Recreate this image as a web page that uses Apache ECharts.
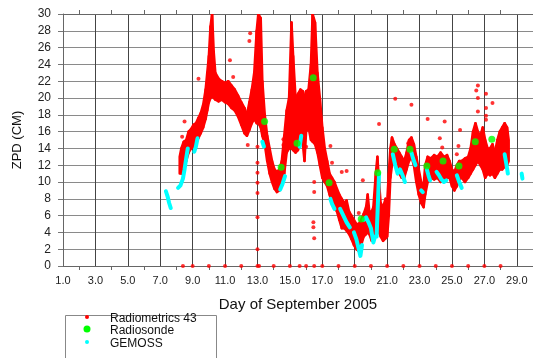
<!DOCTYPE html>
<html>
<head>
<meta charset="utf-8">
<script src="https://cdn.jsdelivr.net/npm/echarts@6/dist/echarts.min.js"></script>
<style>html,body{margin:0;padding:0;background:#fff}#c{width:533px;height:358px}</style>
</head>
<body>
<div id="c"></div>
<script>
// Radiometrics 43: read band [day, low, high]
const radBand = [
 [8.2,11.0,13.0],[8.3,11.0,14.0],[8.45,11.8,14.8],[8.6,12.5,15.0],[8.75,13.5,16.0],[8.9,14.0,16.3],
 [9.05,14.2,16.8],[9.2,14.8,17.0],[9.35,15.2,17.6],[9.5,15.8,18.2],[9.65,16.5,19.2],[9.8,17.5,21.0],
 [9.9,18.5,23.0],[10.0,19.5,25.0],[10.1,20.0,28.5],[10.2,20.3,30.0],[10.3,20.0,25.5],[10.4,19.8,23.0],
 [10.6,19.6,22.3],[10.8,19.8,22.0],[11.0,19.5,21.8],[11.2,19.3,22.0],[11.4,18.8,21.5],[11.6,18.5,21.0],
 [11.8,17.8,20.3],[12.0,16.8,19.5],[12.2,15.8,18.8],[12.35,15.5,18.0],[12.5,16.2,19.5],[12.65,17.0,21.0],
 [12.8,17.5,23.0],[12.95,17.0,28.0],[13.05,17.0,30.0],[13.2,16.5,29.5],[13.3,15.5,22.0],[13.45,14.5,18.0],
 [13.6,12.5,15.5],[13.75,11.0,14.0],[13.9,10.0,12.5],[14.05,9.2,11.5],[14.2,8.8,11.2],[14.35,9.0,11.5],
 [14.5,9.5,12.5],[14.65,11.0,15.5],[14.8,13.5,18.5],[14.95,14.0,20.0],[15.1,14.0,29.0],[15.2,13.8,25.0],
 [15.35,13.5,20.0],[15.5,13.8,20.5],[15.65,15.0,21.0],[15.8,14.5,20.8],[15.9,12.5,20.0],[16.0,16.0,20.8],
 [16.15,16.5,21.0],[16.3,15.0,24.0],[16.4,14.8,30.0],[16.55,14.5,29.0],[16.7,13.5,23.0],[16.85,12.0,20.0],
 [17.0,10.5,16.5],[17.15,10.0,14.0],[17.3,9.5,12.5],[17.45,8.5,11.0],[17.6,7.5,10.5],[17.75,7.0,10.0],
 [17.9,6.5,9.2],[18.05,5.5,8.5],[18.2,4.5,8.0],[18.35,4.5,7.5],[18.5,4.2,7.8],[18.65,3.8,6.5],
 [18.8,3.2,6.0],[18.95,2.5,5.5],[19.1,2.0,5.0],[19.25,1.8,5.0],[19.4,2.5,5.5],[19.55,3.5,6.2],
 [19.7,3.8,7.0],[19.8,4.0,8.5],[19.9,3.8,6.5],[20.05,3.0,6.5],[20.15,3.0,7.0],[20.3,5.0,11.0],
 [20.4,6.0,13.0],[20.5,4.0,10.0],[20.6,3.5,7.5],[20.75,3.0,7.0],[20.9,3.3,8.0],[21.0,3.5,7.5],
 [21.1,6.0,11.0],[21.2,10.5,14.0],[21.3,12.0,15.3],[21.45,12.5,14.5],[21.6,11.5,14.0],[21.75,11.0,13.5],
 [21.9,10.5,13.0],[22.05,10.5,12.5],[22.2,11.5,13.5],[22.35,12.5,15.0],[22.5,13.0,15.3],[22.65,12.0,14.5],
 [22.8,10.0,13.0],[22.95,8.5,11.5],[23.1,7.5,10.0],[23.25,7.0,9.5],[23.35,8.5,12.0],[23.5,10.0,13.0],
 [23.7,10.5,12.8],[23.9,10.3,13.2],[24.1,10.5,13.0],[24.3,10.0,13.5],[24.5,10.2,13.0],[24.7,10.5,13.2],
 [24.85,10.5,12.5],[25.0,9.5,11.5],[25.15,9.0,11.2],[25.3,9.5,12.0],[25.45,10.3,12.5],[25.6,10.5,12.5],
 [25.8,10.0,12.8],[26.0,10.5,13.0],[26.15,11.0,14.0],[26.3,11.5,16.0],[26.45,12.0,17.0],[26.6,12.5,16.0],
 [26.75,12.0,15.5],[26.9,11.5,16.5],[27.05,10.5,15.0],[27.2,11.0,14.0],[27.35,10.8,14.0],[27.5,11.0,14.5],
 [27.65,10.5,13.5],[27.8,11.0,15.0],[27.95,11.5,16.0],[28.1,11.5,16.5],[28.25,11.8,17.0],[28.4,12.0,16.5],
 [28.5,12.5,15.0]
];
// Radiometrics 43: scattered single points [day, value]
const radPoints = [
 [8.4,0],[9,0],[10,0],[11,0],[12,0],[13,0],[13.1,0],[14,0],[15,0],[15.6,0],[16,0],[16.5,0],[17,0],
 [18,0],[19,0],[20,0],[21,0],[22,0],[23,0],[24,0],[25,0],[26,0],[27,0],[28,0],
 [13.0,2.0],[13.0,5.8],[13.0,8.7],[13.0,9.9],[13.0,11.1],[13.0,12.3],[13.0,14.2],
 [16.5,10.0],[16.5,8.8],[16.45,5.2],[16.45,4.6],[16.5,3.3],
 [8.35,15.4],[8.5,17.2],[9.36,22.3],[11.3,24.5],[11.5,22.5],[12.5,26.8],[12.55,27.7],[12.4,14.4],
 [14.6,14.4],[14.6,15.1],[16.0,14.2],[17.5,14.3],[17.6,12.3],[18.2,11.2],[18.5,11.3],[19.25,6.3],
 [19.5,10.2],[20.5,16.9],[21.5,19.9],[22.3,14.6],[22.5,19.2],[23.5,17.5],[24.25,15.2],[24.4,14.1],
 [24.55,17.2],[25.3,13.3],[25.4,14.3],[25.5,16.2],[26.5,20.9],[26.6,21.5],[26.6,20.0],[26.6,18.4],
 [27.1,20.5],[27.1,18.8],[27.1,17.9],[27.1,17.4],[27.5,19.4]
];
// Radiosonde [day, value]
const sonde = [
 [13.44,17.2],[14.46,11.75],[15.44,14.6],[16.44,22.4],[17.42,9.9],[19.4,5.6],[20.42,11.1],
 [21.44,13.9],[22.41,13.9],[23.45,11.9],[24.45,12.5],[25.43,11.9],[26.44,14.8],[27.46,15.1]
];
// GEMOSS segments [day, value]
const gemossSegments = [
 [[7.35,8.9],[7.45,8.3],[7.55,7.5],[7.65,6.9]],
 [[8.1,9.3],[8.25,9.6],[8.4,10.4],[8.5,11.5],[8.6,12.8],[8.7,14.0]],
 [[9.1,13.6],[9.2,14.2],[9.3,15.2]],
 [[13.3,14.8],[13.4,14.2]],
 [[14.4,9.1],[14.55,9.8],[14.7,10.7]],
 [[15.6,14.2],[15.7,15.5]],
 [[17.5,8.0],[17.6,7.4],[17.75,6.8]],
 [[18.1,6.8],[18.3,6.0],[18.5,5.2],[18.7,4.6]],
 [[18.95,4.0],[19.1,3.2],[19.25,2.0],[19.35,1.2],[19.45,2.5]],
 [[19.55,5.5],[19.7,5.8],[19.85,5.2],[20.0,4.5],[20.15,2.8],[20.25,3.5]],
 [[20.35,3.5],[20.42,7.0],[20.5,11.0]],
 [[21.35,13.3],[21.5,12.0],[21.65,11.0],[21.8,11.5],[21.95,10.8],[22.1,10.0]],
 [[22.5,13.5],[22.6,12.8],[22.75,12.0]],
 [[23.1,9.0],[23.2,8.8]],
 [[23.45,11.5],[23.55,10.8],[23.65,10.2]],
 [[24.05,11.2],[24.2,10.8],[24.35,10.3],[24.5,10.0],[24.65,10.2]],
 [[25.3,10.8],[25.45,10.0],[25.6,9.3]],
 [[28.25,13.3],[28.35,12.2],[28.45,11.0]],
 [[29.3,11.0],[29.35,10.4]]
];
const xLabelDays = [1,3,5,7,9,11,13,15,17,19,21,23,25,27,29];
const yTicks = [0,2,4,6,8,10,12,14,16,18,20,22,24,26,28,30];
const legendNames = ['Radiometrics 43', 'Radiosonde', 'GEMOSS'];

const gemossData = [];
gemossSegments.forEach(seg => {
  seg.forEach(p => gemossData.push(p));
  gemossData.push([seg[seg.length-1][0], '-']);
});

function renderBand(params, api) {
  const i = params.dataIndex;
  if (i >= radBand.length - 1) return null;
  const a = radBand[i], b = radBand[i + 1];
  const pts = [api.coord([a[0], a[2]]), api.coord([b[0], b[2]]), api.coord([b[0], b[1]]), api.coord([a[0], a[1]])];
  return { type: 'polygon', shape: { points: pts },
    style: { fill: '#ff0000', stroke: '#ff0000', lineWidth: 2.5, lineJoin: 'round' } };
}

const chart = echarts.init(document.getElementById('c'), null, { renderer: 'canvas' });
const font = 'Liberation Sans, Arial, sans-serif';
const legendColors = ['#ff0000', '#00ff00', '#00ffff'];
const legendR = [2, 3.5, 2];
const legendY = [317, 329, 342];
const legendGraphics = [{
  type: 'rect', left: 63, top: 313, z: 100, silent: true,
  shape: { width: 151, height: 60 },
  style: { fill: 'none', stroke: '#888', lineWidth: 1 }
}];
legendNames.forEach((n, i) => {
  legendGraphics.push({ type: 'circle', z: 101, silent: true,
    shape: { cx: 87, cy: legendY[i], r: legendR[i] }, style: { fill: legendColors[i] } });
  legendGraphics.push({ type: 'text', z: 101, silent: true, x: 110, y: legendY[i] + 1.5,
    style: { text: n, fill: '#111', font: '12px ' + font, textVerticalAlign: 'middle', verticalAlign: 'middle' } });
});

chart.setOption({
  animation: false,
  backgroundColor: '#ffffff',
  textStyle: { fontFamily: font },
  grid: { left: 63, top: 14, bottom: 92, right: -4 },
  xAxis: [{
    type: 'value', min: 1, max: 30, interval: 2, position: 'bottom',
    name: 'Day of September 2005', nameLocation: 'middle', nameGap: 31,
    nameTextStyle: { fontSize: 15, color: '#111', fontFamily: font },
    axisLine: { show: true, lineStyle: { color: '#666', width: 1 } },
    axisTick: { show: false },
    minorTick: { show: true, splitNumber: 2, length: 4, lineStyle: { color: '#666' } },
    axisLabel: { margin: 9, fontSize: 11, color: '#222', fontFamily: font, showMaxLabel: false,
      formatter: v => xLabelDays.indexOf(v) >= 0 ? v.toFixed(1) : '' },
    splitLine: { show: true, showMaxLine: false, lineStyle: { color: '#444444', width: 1 } }
  }, {
    type: 'value', min: 1, max: 30, interval: 2, position: 'top',
    axisLine: { show: true, lineStyle: { color: '#666', width: 1 } },
    axisTick: { show: false },
    minorTick: { show: true, splitNumber: 2, length: 4, lineStyle: { color: '#666' } },
    axisLabel: { show: false }, splitLine: { show: false }
  }],
  yAxis: {
    type: 'value', min: 0, max: 30, interval: 2,
    name: 'ZPD (CM)', nameLocation: 'middle', nameGap: 39, nameRotate: 90,
    nameTextStyle: { fontSize: 13, color: '#111', fontFamily: font },
    axisLine: { show: true, lineStyle: { color: '#666', width: 1 } },
    axisTick: { show: true, inside: false, length: 5, lineStyle: { color: '#777' } },
    axisLabel: { margin: 12, fontSize: 12, color: '#222', fontFamily: font,
      formatter: v => yTicks.indexOf(v) >= 0 ? String(v) : '' },
    splitLine: { show: true, lineStyle: { color: '#8a8a8a', width: 1 } }
  },
  graphic: legendGraphics,
  series: [
    { name: 'Radiometrics 43', type: 'scatter', data: radPoints, symbol: 'circle', symbolSize: 4,
      itemStyle: { color: '#ff0000' }, z: 3 },
    { name: 'Radiometrics 43', type: 'custom', data: radBand, renderItem: renderBand, clip: true,
      encode: { x: 0, y: [1, 2] }, itemStyle: { color: '#ff0000' }, z: 2 },
    { name: 'GEMOSS', type: 'line', data: gemossData, showSymbol: false, connectNulls: false,
      lineStyle: { color: '#00ffff', width: 4, cap: 'round', join: 'round' }, itemStyle: { color: '#00ffff' }, z: 4 },
    { name: 'Radiosonde', type: 'scatter', data: sonde, symbol: 'circle', symbolSize: 7,
      itemStyle: { color: '#00ff00' }, z: 5 }
  ]
});
</script>
</body>
</html>
